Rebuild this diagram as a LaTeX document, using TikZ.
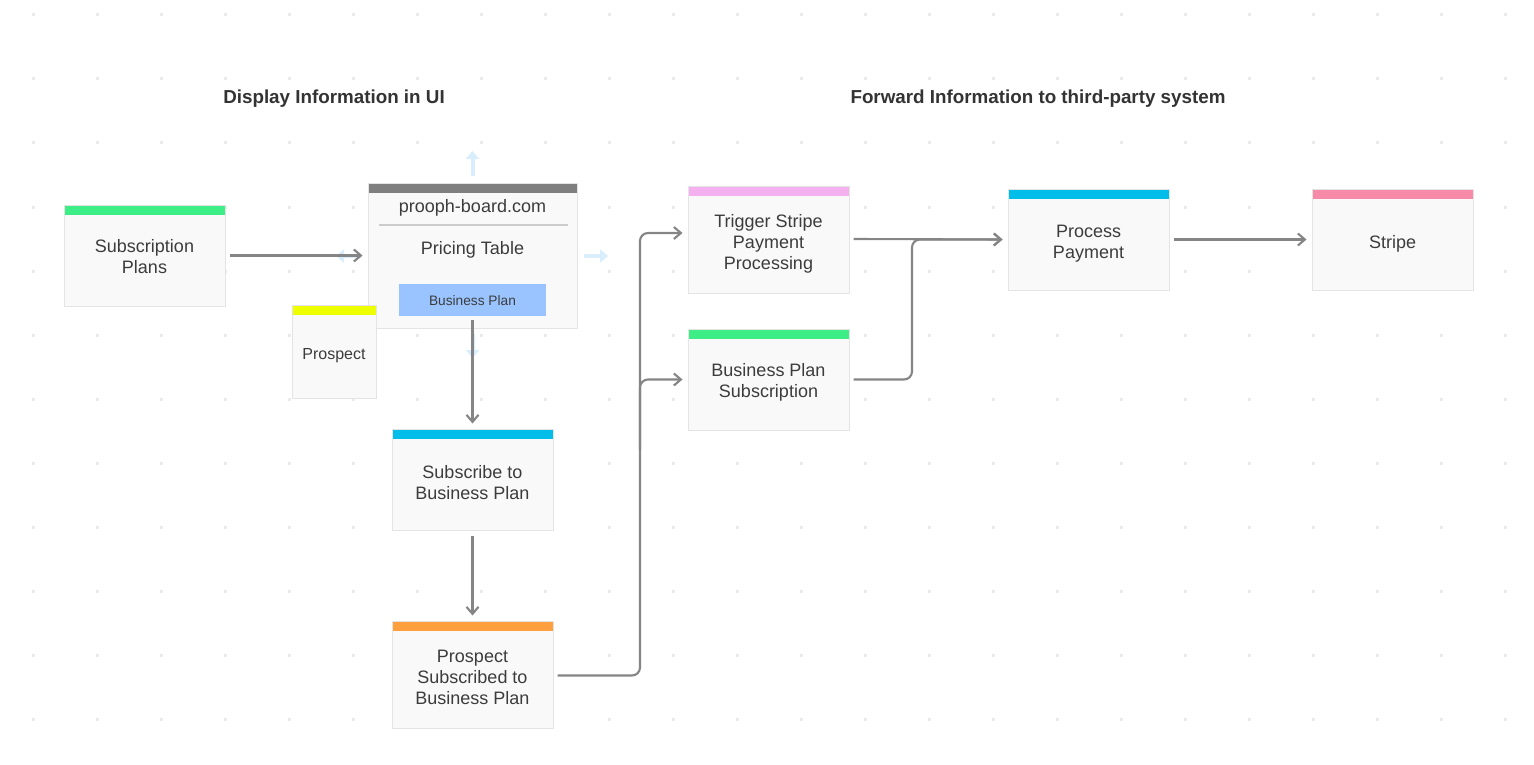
\documentclass[tikz,border=0pt]{standalone}
\usepackage{fontspec}
\setmainfont{Liberation Sans}
\usetikzlibrary{arrows.meta}
\definecolor{txt}{HTML}{3C3C3C}
\definecolor{head}{HTML}{333333}
\definecolor{cardfill}{HTML}{F9F9F9}
\definecolor{cardborder}{HTML}{E4E4E4}
\definecolor{griddot}{HTML}{EAEAEA}
\definecolor{conncol}{HTML}{858585}
\definecolor{handle}{HTML}{D8EEFC}
\definecolor{cgreen}{HTML}{3DED85}
\definecolor{cdark}{HTML}{7F7F7F}
\definecolor{cyellow}{HTML}{EEFF00}
\definecolor{ccyan}{HTML}{00BDE9}
\definecolor{corange}{HTML}{FF9F3D}
\definecolor{cpink}{HTML}{F5B0F0}
\definecolor{crose}{HTML}{F78AA8}
\definecolor{cbutton}{HTML}{99C4FF}
\definecolor{csep}{HTML}{CCCCCC}
\tikzset{
  card/.style={draw=cardborder, fill=cardfill, line width=1pt, inner sep=0pt,
    path picture={\fill[#1] (path picture bounding box.north west) rectangle
      ([yshift=-9.5pt]path picture bounding box.north east);}},
  cardtext/.style={text=txt, font=\fontsize{18}{21}\selectfont, align=center,
    inner sep=0pt, yshift=-3pt},
  smalltext/.style={cardtext, font=\fontsize{16}{19}\selectfont},
  conn/.style={draw=conncol, line width=2.1pt, rounded corners=8pt,
    -{Straight Barb[length=7pt,width=12pt,line width=2.1pt]}},
  handlearrow/.style={draw=handle, line width=4pt,
    -{Triangle[length=8pt,width=13pt]}},
  heading/.style={font=\bfseries\fontsize{18.8}{22}\selectfont, text=head, inner sep=0pt}
}
\begin{document}
\begin{tikzpicture}[x=1pt,y=-1pt]
\useasboundingbox (0,0) rectangle (1534,765);
\fill[white] (0,0) rectangle (1534,765);
% grid dots
\foreach \gx in {33,97,...,1505} {
  \foreach \gy in {15,79,...,719} {
    \fill[griddot] (\gx-1.5,\gy-1.5) rectangle (\gx+1.5,\gy+1.5);
  }
}
% headings
\node[heading] (h1) at (334,99) {Display Information in UI};
\node[heading] (h2) at (1038,99) {Forward Information to third-party system};

% faint handle arrows around pricing table
\coordinate (hu1) at (472.5,176);
\coordinate (hu2) at (472.5,151);
\coordinate (hl1) at (361,256);
\coordinate (hl2) at (336,256);
\coordinate (hr1) at (584,256);
\coordinate (hr2) at (608,256);
\coordinate (hd1) at (472.5,334);
\coordinate (hd2) at (472.5,358);
\draw[handlearrow] (hu1) -- (hu2);
\draw[handlearrow] (hl1) -- (hl2);
\draw[handlearrow] (hr1) -- (hr2);
\draw[handlearrow] (hd1) -- (hd2);

% cards
\node[card=cgreen, minimum width=161pt, minimum height=101pt,
  label={[cardtext, yshift=1.5pt]center:{Subscription\\Plans}}] (sp) at (144.5,255.5) {};
\node[card=cdark, minimum width=209pt, minimum height=145pt] (pt) at (472.5,255.5) {};
\node[cardtext] (ptsite) at (472.5,205) {prooph-board.com};
\draw[csep, line width=1.5pt] ([xshift=11pt]pt.west |- 0,225) coordinate (sepl) -- ([xshift=-10pt]pt.east |- 0,225) coordinate (sepr);
\node[cardtext] (pttitle) at (472.5,246.5) {Pricing Table};
\node[fill=cbutton, minimum width=147pt, minimum height=32pt, inner sep=0pt,
  label={[cardtext, yshift=2pt, font=\fontsize{13.7}{16}\selectfont]center:{Business Plan}}] (btn) at (472.5,300) {};
\node[card=cyellow, minimum width=84pt, minimum height=93pt,
  label={[smalltext, yshift=-1pt]center:{Prospect}}] (pros) at (334,351.5) {};
\node[card=ccyan, minimum width=161pt, minimum height=101pt,
  label={[cardtext]center:{Subscribe to\\Business Plan}}] (sub) at (472.5,479.5) {};
\node[card=corange, minimum width=161pt, minimum height=107pt,
  label={[cardtext]center:{Prospect\\Subscribed to\\Business Plan}}] (ps) at (472.5,674.5) {};
\node[card=cpink, minimum width=161pt, minimum height=107pt,
  label={[cardtext, yshift=-1pt]center:{Trigger Stripe\\Payment\\Processing}}] (trig) at (768.5,239.5) {};
\node[card=cgreen, minimum width=161pt, minimum height=101pt,
  label={[cardtext]center:{Business Plan\\Subscription}}] (bps) at (768.5,379.5) {};
\node[card=ccyan, minimum width=161pt, minimum height=101pt,
  label={[cardtext, yshift=-1pt]center:{Process\\Payment}}] (pp) at (1088.5,239.5) {};
\node[card=crose, minimum width=161pt, minimum height=101pt,
  label={[cardtext, yshift=-1pt]center:{Stripe}}] (str) at (1392.5,239.5) {};

% connectors
\draw[conn] ([xshift=4pt]sp.east) -- ([xshift=-5pt]pt.west);
\draw[conn] ([yshift=-4pt]btn.south) -- ([yshift=5pt]sub.north);
\draw[conn] ([yshift=-5pt]sub.south) -- ([yshift=5pt]ps.north);
\coordinate (bus) at (640,450);
\draw[conn] ([xshift=4pt,yshift=-1pt]ps.east) -| (bus) |- ([xshift=-5pt,yshift=6.5pt]trig.west);
\draw[conn] (bus) |- ([xshift=-5pt]bps.west);
\draw[conn] ([xshift=4pt,yshift=0.5pt]trig.east) -- ([xshift=-5pt]pp.west);
\coordinate (bus2) at (912,300);
\draw[conn] ([xshift=4pt]bps.east) -| (bus2) |- ([xshift=-5pt]pp.west);
\draw[conn] ([xshift=4pt]pp.east) -- ([xshift=-5pt]str.west);
\end{tikzpicture}
\end{document}
